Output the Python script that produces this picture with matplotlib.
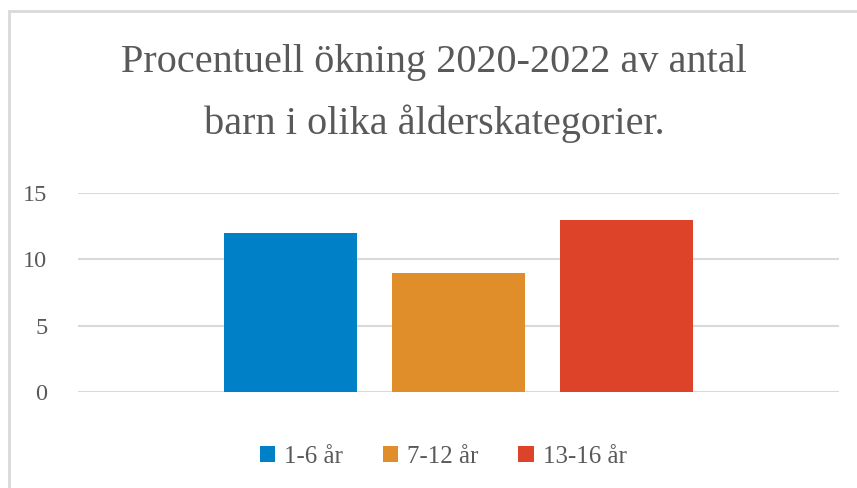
#!/usr/bin/env python3
"""Chart: percentage increase 2020-2022 in number of children per age group."""

import matplotlib.pyplot as plt
from matplotlib.patches import Rectangle

# Data
categories = ["1-6 år", "7-12 år", "13-16 år"]
values = [12, 9, 13]
colors = ["#0080C6", "#E08E2A", "#DC4328"]
yticks = [0, 5, 10, 15]
title_lines = ["Procentuell ökning 2020-2022 av antal", "barn i olika ålderskategorier."]

plt.rcParams["font.family"] = ["Liberation Serif", "DejaVu Serif"]
text_color = "#595959"
grid_color = "#D9D9D9"

fig = plt.figure(figsize=(8.57, 4.88), dpi=100)
ax = fig.add_axes([78 / 857, 1 - 392 / 488, (839 - 78) / 857, (392 - 193) / 488])

x = list(range(len(values)))
bars = ax.bar(x, values, width=0.79, color=colors, label=categories, zorder=3)

ax.set_xlim(-1.26, 3.26)
ax.set_ylim(0, 15)
ax.set_yticks(yticks)
ax.set_xticks([])
ax.yaxis.grid(True, color=grid_color, linewidth=1.5, zorder=0)
ax.tick_params(axis="y", length=0, pad=22, labelsize=17.5, labelcolor=text_color)
for side in ["top", "right", "left", "bottom"]:
    ax.spines[side].set_visible(False)

# title, two lines placed separately
for line, base in zip(title_lines, [72, 134]):
    fig.text(434 / 857, 1 - base / 488, line, ha="center", va="baseline",
             fontsize=29, color=text_color)

leg = fig.legend(handles=bars, labels=categories, loc="center", bbox_to_anchor=(443 / 857, 1 - 457 / 488),
                 ncol=3, frameon=False, fontsize=18, labelcolor=text_color,
                 handlelength=0.62, handleheight=0.62, handletextpad=0.35, columnspacing=1.6)

# outer chart border (only top/left visible in the crop)
fig.patches.append(Rectangle((8.5 / 857, -0.1), 1.2, 1.1 - 10.5 / 488, transform=fig.transFigure,
                             fill=False, edgecolor=grid_color, linewidth=2))

plt.savefig("out.png", dpi=100)
